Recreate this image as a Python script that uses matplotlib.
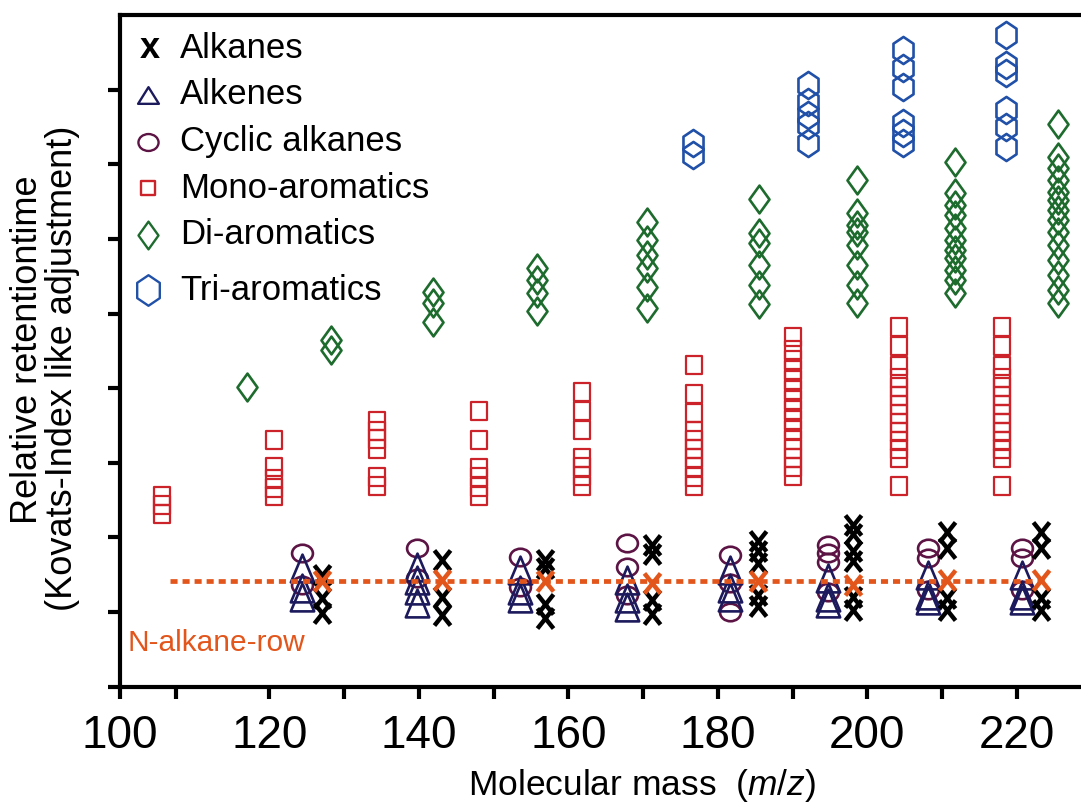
import numpy as np
import matplotlib
matplotlib.use("Agg")
import matplotlib.pyplot as plt
from matplotlib.path import Path

plt.rcParams['font.family'] = ['Liberation Sans', 'DejaVu Sans']
plt.rcParams['mathtext.fontset'] = 'custom'
plt.rcParams['mathtext.rm'] = 'Liberation Sans'
plt.rcParams['mathtext.it'] = 'Liberation Sans:italic'

# ---------------- data (molecular mass, relative retention time) ----------------
alkane_mass = [126.99, 143.05, 156.88, 171.16, 185.39, 198.10, 210.64, 223.26]
alkane_rt = [[1.50, 1.19, 0.99],
             [1.70, 1.20, 0.96],
             [1.70, 1.59, 1.11, 0.92],
             [1.90, 1.78, 1.16, 0.97],
             [1.95, 1.82, 1.66, 1.23, 1.08],
             [2.17, 2.05, 1.82, 1.68, 1.20, 1.03],
             [2.07, 1.86, 1.19, 1.03],
             [2.07, 1.86, 1.19, 1.03]]

nalkane_mass = [126.99, 143.05, 156.88, 171.16, 185.39, 198.10, 210.64, 223.26]
nalkane_rt = [1.41, 1.43, 1.41, 1.39, 1.41, 1.36, 1.43, 1.43]
nalkane_row_mass = [106.7, 223.8]
nalkane_row_rt = [1.416, 1.416]

alkene_mass = [124.32, 139.71, 153.53, 167.81, 181.64, 194.71, 208.14, 220.67]
alkene_rt = [[1.59, 1.32, 1.20],
             [1.60, 1.43, 1.30, 1.12],
             [1.56, 1.30, 1.19],
             [1.43, 1.19, 1.07],
             [1.56, 1.32, 1.20],
             [1.46, 1.20, 1.12],
             [1.50, 1.23, 1.16],
             [1.50, 1.23, 1.16]]

cyclic_mass = [124.32, 139.71, 153.53, 167.81, 181.64, 194.71, 208.14, 220.67]
cyclic_rt = [[1.79, 1.36],
             [1.86, 1.46],
             [1.74, 1.34],
             [1.93, 1.60, 1.23],
             [1.76, 1.39, 1.00],
             [1.90, 1.79, 1.67, 1.27],
             [1.86, 1.72, 1.30],
             [1.86, 1.72, 1.30]]

mono_mass = [105.58, 120.61, 134.35, 148.09, 161.87, 176.86, 190.11, 204.30, 218.08]
mono_rt = [[2.56, 2.43, 2.31],
           [3.31, 2.94, 2.78, 2.66, 2.56],
           [3.56, 3.43, 3.32, 3.19, 2.81, 2.69],
           [3.69, 3.31, 2.93, 2.81, 2.68, 2.56],
           [3.95, 3.69, 3.44, 3.06, 2.94, 2.82, 2.69],
           [4.31, 3.92, 3.67, 3.43, 3.31, 3.19, 3.06, 2.94, 2.81, 2.69],
           [4.69, 4.51, 4.38, 4.24, 4.11, 3.98, 3.84, 3.71, 3.57, 3.44, 3.31, 3.19, 3.06, 2.94, 2.82],
           [4.82, 4.57, 4.30, 4.14, 4.02, 3.90, 3.77, 3.65, 3.53, 3.41, 3.29, 3.19, 3.06, 2.69],
           [4.82, 4.57, 4.30, 4.14, 4.02, 3.90, 3.77, 3.65, 3.53, 3.41, 3.29, 3.19, 3.06, 2.69]]

di_mass = [116.96, 128.20, 141.93, 155.77, 170.49, 185.52, 198.67, 211.75, 225.49]
di_rt = [[4.02],
         [4.65, 4.51],
         [5.29, 5.14, 4.89],
         [5.61, 5.45, 5.28, 5.03],
         [6.23, 5.99, 5.78, 5.61, 5.36, 5.07],
         [6.53, 6.08, 5.95, 5.65, 5.38, 5.13],
         [6.79, 6.35, 6.19, 6.09, 5.92, 5.65, 5.38, 5.14],
         [7.03, 6.62, 6.45, 6.32, 6.15, 5.99, 5.85, 5.74, 5.58, 5.45, 5.28],
         [7.54, 7.10, 6.95, 6.79, 6.63, 6.52, 6.39, 6.25, 6.09, 5.92, 5.72, 5.52, 5.32, 5.14]]

tri_mass = [176.73, 192.04, 204.83, 218.53]
tri_rt = [[7.29, 7.12],
          [8.06, 7.83, 7.66, 7.53, 7.29],
          [8.53, 8.29, 8.04, 7.55, 7.42, 7.29],
          [8.73, 8.33, 8.22, 7.73, 7.50, 7.23]]

x_major = [100, 120, 140, 160, 180, 200, 220]
x_ticks = [100, 107.5, 120, 130, 140, 150, 160, 170, 180, 190, 200, 210, 220]
y_ticks = [0, 1, 2, 3, 4, 5, 6, 7, 8]

legend_labels = ["Alkanes", "Alkenes", "Cyclic alkanes", "Mono-aromatics",
                 "Di-aromatics", "Tri-aromatics"]

# ---------------- colours & markers ----------------
C_ALK = "#000000"
C_ENE = "#1c1a5c"
C_CYC = "#5c1444"
C_MONO = "#cc2229"
C_DI = "#1e6b2e"
C_TRI = "#2050a8"
C_ORANGE = "#e2561c"


def closed(verts):
    verts = list(verts) + [verts[0]]
    return Path(verts, closed=True)


m_x = Path([(-0.4, -0.5), (0.4, 0.5), (-0.4, 0.5), (0.4, -0.5)],
           [Path.MOVETO, Path.LINETO, Path.MOVETO, Path.LINETO])
m_tri = closed([(-0.42, -0.5), (0.42, -0.5), (0.0, 0.5)])
m_tri_leg = closed([(-0.5, -0.4), (0.5, -0.4), (0.0, 0.4)])
uc = Path.unit_circle()
m_ell = Path(uc.vertices * np.array([0.5, 0.42]), uc.codes)
m_sq = closed([(-0.47, -0.5), (0.47, -0.5), (0.47, 0.5), (-0.47, 0.5)])
m_dia = closed([(0, 0.5), (0.36, 0), (0, -0.5), (-0.36, 0)])
m_hex = closed([(0, 0.5), (0.37, 0.25), (0.37, -0.25), (0, -0.5), (-0.37, -0.25), (-0.37, 0.25)])


def flat(mass, rt):
    xs, ys = [], []
    for m, vals in zip(mass, rt):
        for v in vals:
            xs.append(m)
            ys.append(v)
    return xs, ys


W, H = 1081, 805
fig = plt.figure(figsize=(W / 100, H / 100), dpi=100)
ax = fig.add_axes([120 / W, 1 - 686.7 / H, (W - 120) / W, (686.7 - 15) / H])
ax.set_xlim(100, 228.6)
ax.set_ylim(0, 9)

common = dict(linestyle='none', markerfacecolor='none')

x, y = flat(mono_mass, mono_rt)
ax.plot(x, y, marker=m_sq, markersize=12.5, markeredgecolor=C_MONO, markeredgewidth=1.6, **common)
x, y = flat(di_mass, di_rt)
ax.plot(x, y, marker=m_dia, markersize=20, markeredgecolor=C_DI, markeredgewidth=1.9, **common)
x, y = flat(tri_mass, tri_rt)
ax.plot(x, y, marker=m_hex, markersize=19.5, markeredgecolor=C_TRI, markeredgewidth=1.9, **common)
x, y = flat(cyclic_mass, cyclic_rt)
ax.plot(x, y, marker=m_ell, markersize=15, markeredgecolor=C_CYC, markeredgewidth=1.9, **common)
x, y = flat(alkene_mass, alkene_rt)
ax.plot(x, y, marker=m_tri, markersize=20, markeredgecolor=C_ENE, markeredgewidth=1.9, **common)
x, y = flat(alkane_mass, alkane_rt)
ax.plot(x, y, marker=m_x, markersize=14.5, markeredgecolor=C_ALK, markeredgewidth=3.2, **common)

ax.plot(nalkane_row_mass, nalkane_row_rt, color=C_ORANGE, linewidth=3.4,
        linestyle=(0, (1.5, 1.05)), solid_capstyle='butt', dash_capstyle='butt')
ax.plot(nalkane_mass, nalkane_rt, marker=m_x, markersize=14.5, markeredgecolor=C_ORANGE,
        markeredgewidth=3.2, **common)

ax.text(101, 0.58, "N-alkane-row", color=C_ORANGE, fontsize=21.5, ha='left', va='center')

# axes styling
for s in ['left', 'bottom', 'top']:
    ax.spines[s].set_linewidth(3.0)
ax.spines['right'].set_visible(False)
ax.set_xticks(x_ticks)
ax.set_xticklabels([str(t) if t in x_major else '' for t in x_ticks])
ax.set_yticks(y_ticks)
ax.set_yticklabels([])
ax.tick_params(axis='both', direction='out', length=8.5, width=3.0)
ax.tick_params(axis='x', labelsize=33, pad=11)

fig.text(642 / W, 1 - 785 / H, r"Molecular mass  ($\mathit{m/z}$)", fontsize=25.5,
         ha='center', va='center')
fig.text(28 / W, 1 - 350 / H, "Relative retentiontime", fontsize=26, rotation=90,
         ha='center', va='center')
fig.text(63 / W, 1 - 368 / H, "(Kovats-Index like adjustment)", fontsize=26, rotation=90,
         ha='center', va='center')

# legend (manual)
rows_y = [48, 95, 142, 188, 235, 290]
leg_markers = [None, (m_tri_leg, 15, C_ENE), (m_ell, 14.5, C_CYC), (m_sq, 10.5, C_MONO),
               (m_dia, 20, C_DI), (m_hex, 22, C_TRI)]
for lab, ry, mk in zip(legend_labels, rows_y, leg_markers):
    fy = 1 - ry / H
    if mk is None:
        fig.text(150 / W, fy, "x", fontsize=26, fontweight='bold', ha='center', va='center')
    else:
        fig.lines.append(plt.Line2D([148 / W], [fy], transform=fig.transFigure, marker=mk[0],
                                    markersize=mk[1], markeredgecolor=mk[2],
                                    markerfacecolor='none', markeredgewidth=1.7, linestyle='none'))
    fig.text(180 / W, fy, lab, fontsize=25, ha='left', va='center')

fig.savefig("out.png", dpi=100)
